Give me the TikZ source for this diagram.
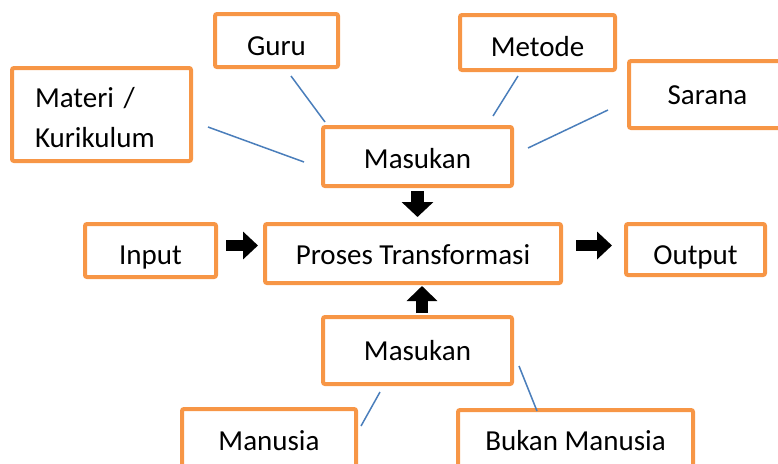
\documentclass[tikz,border=0pt]{standalone}
\usepackage{fontspec}
\setmainfont{Carlito}
\usetikzlibrary{positioning,calc,arrows.meta}
\definecolor{boxorange}{HTML}{F79646}
\definecolor{linkblue}{HTML}{4A7EBB}
\tikzset{font=\fontsize{29}{40}\selectfont}
\tikzset{
	box/.style={draw=boxorange, line width=4pt, rounded corners=2pt, inner sep=0pt},
	oneline/.style={text height=#1, text depth=0pt},
	oneline/.default=19pt,
	link/.style={draw=linkblue, line width=1.5pt},
	blockarrow/.style={line width=12pt, -{Triangle[width=30pt,length=15pt]}}
}

\begin{document}
\begin{tikzpicture}[x=1pt, y=-1pt]
	\useasboundingbox (0,0) rectangle (778,463);
	\clip (0,0) rectangle (778,463);
	\begin{scope}
		% upper inputs
		\node[box, oneline=29pt, minimum width=123pt, minimum height=53pt] (guru) at (276.5, 40.5) {Guru};
		\node[box, minimum width=179pt, minimum height=93pt, text width=133pt, align=left] (materi) at (101.5, 114.5) {\rule{0pt}{26.5pt}Materi /\\Kurikulum};
		\node[box, oneline=27pt, minimum width=155pt, minimum height=55pt] (metode) at (537.5, 42.5) {Metode};
		\node[box, oneline, minimum width=157pt, minimum height=67pt] (sarana) at (707.5, 94.5) {Sarana};
		\node[box, oneline=23pt, minimum width=189pt, minimum height=59pt] (masukan1) at (417.5, 156.5) {Masukan};

		% main row
		\node[box, oneline=28pt, minimum width=131pt, minimum height=53pt] (input) at (150.5, 250.5) {Input};
		\node[box, oneline=22pt, minimum width=296pt, minimum height=59pt] (proses) at (413, 253.5) {Proses Transformasi};
		\node[box, oneline=30pt, minimum width=139pt, minimum height=51pt] (output) at (695.5, 249.5) {Output};

		% lower inputs
		\node[box, oneline, minimum width=189pt, minimum height=67pt] (masukan2) at (417.5, 350.5) {Masukan};
		\node[box, oneline=24pt, minimum width=174pt, minimum height=59pt] (manusia) at (269, 438.5) {Manusia};
		\node[box, oneline=23pt, minimum width=235pt, minimum height=58pt] (bukan) at (575.5, 439) {Bukan Manusia};

		\draw[link] ($(guru.south)+(14.5,7)$) -- ($(masukan1.north west)+(4,-3)$);
		\draw[link] ($(materi.east)+(15,12.5)$) -- ($(masukan1.west)+(-17,5.5)$);
		\draw[link] ($(metode.south)+(-19.5,4)$) -- ($(masukan1.north east)+(-21,-9)$);
		\draw[link] ($(sarana.west)+(-19,15.5)$) -- ($(masukan1.east)+(14,-8.5)$);
		\draw[link] ($(masukan2.south)+(-37.5,6)$) -- ($(manusia.north east)+(3,19)$);
		\draw[link] ($(masukan2.east)+(5,15.5)$) -- ($(bukan.north)+(-38.5,3)$);

		\draw[blockarrow, line width=11pt, -{Triangle[width=27pt,length=15pt]}] ($(input.east)+(8,-5)$) -- ($(proses.west)+(-5,-8)$);
		\draw[blockarrow, line width=11pt, -{Triangle[width=27pt,length=15pt]}] ($(proses.east)+(13,-8)$) -- ($(output.west)+(-12,-4)$);
		\draw[blockarrow, line width=13pt, -{Triangle[width=31pt,length=15pt]}] ($(masukan1.south)+(0,3)$) -- ($(proses.north)+(4.5,-5)$);
		\draw[blockarrow] ($(masukan2.north)+(4.5,-2)$) -- ($(proses.south)+(9,1)$);
	\end{scope}
\end{tikzpicture}
\end{document}
